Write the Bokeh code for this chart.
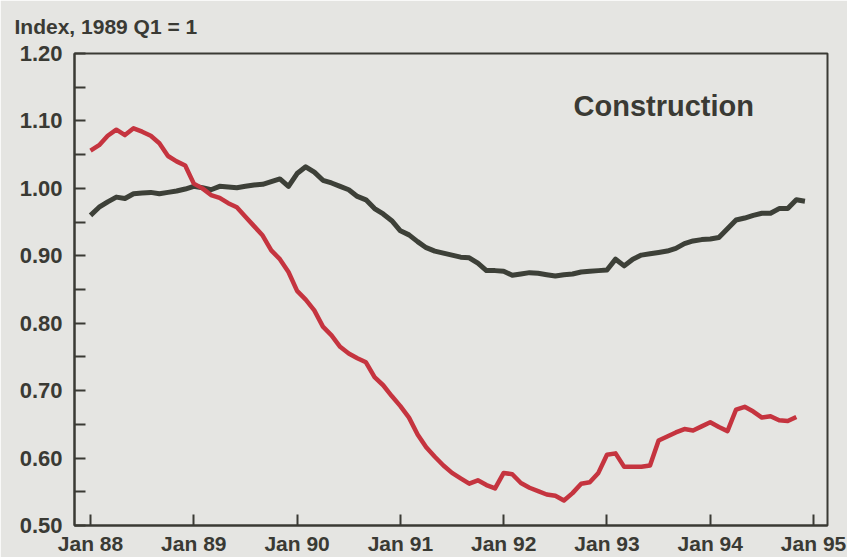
from bokeh.plotting import figure
from bokeh.models import FixedTicker, Label, Range1d
from bokeh.embed import file_html
from bokeh.resources import INLINE

# Monthly index values, Jan 1988 onward (1989 Q1 = 1)
black_series = [
    0.960, 0.972, 0.980, 0.987, 0.985, 0.992, 0.993, 0.994, 0.992, 0.994, 0.996, 0.999,
    1.003, 1.001, 0.998, 1.003, 1.002, 1.001, 1.003, 1.005, 1.006, 1.010, 1.014, 1.003,
    1.022, 1.032, 1.024, 1.012, 1.008, 1.003, 0.998, 0.988, 0.983, 0.970, 0.962, 0.952,
    0.937, 0.931, 0.921, 0.912, 0.907, 0.904, 0.901, 0.898, 0.897, 0.889, 0.878, 0.878,
    0.877, 0.871, 0.873, 0.875, 0.874, 0.872, 0.870, 0.872, 0.873, 0.876, 0.877, 0.878,
    0.879, 0.895, 0.885, 0.895, 0.901, 0.903, 0.905, 0.907, 0.911, 0.918, 0.922, 0.924,
    0.925, 0.927, 0.940, 0.953, 0.956, 0.960, 0.963, 0.963, 0.970, 0.970, 0.983, 0.981,
]
red_series = [
    1.056, 1.064, 1.078, 1.087, 1.079, 1.089, 1.084, 1.078, 1.067, 1.048, 1.040, 1.034,
    1.007, 1.000, 0.990, 0.986, 0.978, 0.972, 0.958, 0.944, 0.930, 0.908, 0.895, 0.876,
    0.848, 0.835, 0.819, 0.795, 0.782, 0.765, 0.755, 0.748, 0.742, 0.720, 0.708, 0.692,
    0.677, 0.660, 0.635, 0.616, 0.602, 0.589, 0.578, 0.570, 0.562, 0.567, 0.560, 0.555,
    0.578, 0.576, 0.563, 0.556, 0.551, 0.546, 0.544, 0.537, 0.548, 0.562, 0.564, 0.578,
    0.605, 0.607, 0.587, 0.587, 0.587, 0.589, 0.626, 0.632, 0.638, 0.643, 0.641, 0.647,
    0.653, 0.646, 0.640, 0.672, 0.676, 0.669, 0.660, 0.662, 0.656, 0.655, 0.661,
]
start_year = 88
tick_years = [88, 89, 90, 91, 92, 93, 94, 95]
tick_labels = ["Jan 88", "Jan 89", "Jan 90", "Jan 91", "Jan 92", "Jan 93", "Jan 94", "Jan 95"]
y_major = [0.50, 0.60, 0.70, 0.80, 0.90, 1.00, 1.10, 1.20]
y_minor = [0.55, 0.65, 0.75, 0.85, 0.95, 1.05, 1.15]
title_text = "Index, 1989 Q1 = 1"
panel_text = "Construction"

x_black = [start_year + i / 12 for i in range(len(black_series))]
x_red = [start_year + i / 12 for i in range(len(red_series))]

BG = "#e5e5e2"
INK = "#3a3a34"
FONT = "Liberation Sans"

p = figure(width=847, height=557, output_backend="svg", toolbar_location=None,
           x_range=Range1d(87.845, 95.135), y_range=Range1d(0.5, 1.2),
           min_border_left=74, min_border_right=20, min_border_top=52, min_border_bottom=30)
p.background_fill_color = BG
p.border_fill_color = BG
p.outline_line_color = INK
p.outline_line_width = 2
p.grid.visible = False

p.title.text = title_text
p.title.align = "left"
p.title.vertical_align = "top"
p.title.offset = -60
p.title.standoff = 28
p.title.text_font = FONT
p.title.text_font_style = "bold"
p.title.text_font_size = "21px"
p.title.text_color = INK

p.line(x_black, black_series, line_color="#3d4038", line_width=5, line_join="round")
p.line(x_red, red_series, line_color="#c5343f", line_width=4.5, line_join="round")

xa = p.xaxis[0]
xa.ticker = FixedTicker(ticks=tick_years)
xa.major_label_overrides = {t: l for t, l in zip(tick_years, tick_labels)}
xa.major_tick_in = 11
xa.major_tick_out = 0
xa.minor_tick_in = 0
xa.minor_tick_out = 0
xa.axis_line_width = 2
xa.axis_line_color = INK
xa.major_tick_line_color = INK
xa.major_tick_line_width = 2
xa.major_label_standoff = 6
xa.major_label_text_font = FONT
xa.major_label_text_font_style = "bold"
xa.major_label_text_font_size = "21px"
xa.major_label_text_color = INK

ya = p.yaxis[0]
ya.ticker = FixedTicker(ticks=y_major, minor_ticks=y_minor)
ya.major_label_overrides = {v: f"{v:.2f}" for v in y_major}
ya.major_tick_in = 11
ya.major_tick_out = 0
ya.minor_tick_in = 11
ya.minor_tick_out = 0
ya.axis_line_width = 2
ya.axis_line_color = INK
ya.major_tick_line_color = INK
ya.minor_tick_line_color = INK
ya.major_tick_line_width = 2
ya.minor_tick_line_width = 2
ya.major_label_standoff = 12
ya.major_label_text_font = FONT
ya.major_label_text_font_style = "bold"
ya.major_label_text_font_size = "22px"
ya.major_label_text_color = INK

p.add_layout(Label(x=92.676, y=1.122, text=panel_text, text_font=FONT,
                   text_font_style="bold", text_font_size="29px", text_color=INK,
                   text_baseline="alphabetic"))

open("out.html", "w").write(file_html(p, INLINE))
